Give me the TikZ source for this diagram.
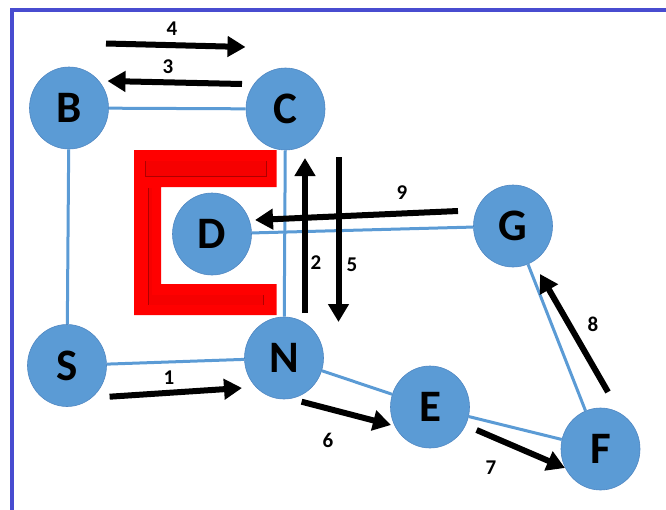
\documentclass[tikz,border=0pt]{standalone}
\usepackage{fontspec}
\setmainfont{Carlito}
\usetikzlibrary{shapes.geometric,arrows.meta}
\definecolor{nodeblue}{RGB}{91,155,213}
\definecolor{nodeedge}{RGB}{80,135,194}
\definecolor{framecol}{RGB}{72,76,208}
\definecolor{bevel}{RGB}{175,0,0}
\definecolor{shieldred}{RGB}{255,0,0}
\definecolor{shieldin}{RGB}{246,0,0}

\begin{document}
\begin{tikzpicture}[x=1pt,y=-1pt]
    \tikzstyle{router}=[ellipse,fill=nodeblue,draw=nodeedge,line width=0.6pt,minimum width=79pt,minimum height=82pt,inner sep=0,font=\fontsize{45}{45}\selectfont\bfseries]
    \tikzstyle{link}=[draw=nodeblue,line width=3pt]
    \tikzstyle{hop}=[draw=black,line width=6pt,-{Triangle[width=20pt,length=18pt]}]
    \tikzstyle{num}=[inner sep=0,font=\fontsize{21}{21}\selectfont\bfseries]
    {
        \useasboundingbox (0,0) rectangle (666,509);
        % frame
        \draw[framecol,line width=4.5pt] (12,530) -- (12,10) -- (690,10);

        % red shield
        \fill[shieldred] (134,150) -- (276.5,150) -- (276.5,187) -- (161,187) -- (161,284)
            -- (276.5,284) -- (276.5,315) -- (134,315) -- cycle;
        \fill[shieldin] (145,161) rectangle (266.5,176);
        \fill[shieldin] (148.5,188) rectangle (152,304);
        \fill[shieldin] (150,295) rectangle (263,305);
        \draw[bevel,line width=0.8pt] (145,161) -- (145,176) -- (266.5,176) -- (266.5,161);
        \draw[bevel,line width=1pt] (148.5,188) -- (148.5,305);
        \draw[bevel,line width=0.8pt] (263,295) -- (263,305);

        % routers
        \node[router] (B) at (69,108) {B};
        \node[router] (C) at (285.5,109) {C};
        \node[router] (D) at (212,234) {D};
        \node[router] (G) at (513,226) {G};
        \node[router] (S) at (67,365.5) {S};
        \node[router] (N) at (284,358) {N};
        \node[router] (E) at (430,407) {E};
        \node[router] (F) at (600.5,449) {F};

        \path[every edge/.style=link]
            (B) edge (C)
            (B) edge (S)
            (C) edge (N)
            (S) edge (N)
            (D) edge (G)
            (N) edge (E)
            (E) edge (F)
            (G) edge (F);

        % hops
        \coordinate (h1a) at (109.6,396.7);  \coordinate (h1b) at (242,388);
        \coordinate (h2a) at (305,313);      \coordinate (h2b) at (305,158);
        \coordinate (h3a) at (242,84);       \coordinate (h3b) at (107.5,81);
        \coordinate (h4a) at (106,43.5);     \coordinate (h4b) at (245.5,47);
        \coordinate (h5a) at (338.5,157);    \coordinate (h5b) at (338.5,322);
        \coordinate (h6a) at (301.6,401.7);  \coordinate (h6b) at (391,425);
        \coordinate (h7a) at (476.6,430);    \coordinate (h7b) at (565,468);
        \coordinate (h8a) at (608,392);      \coordinate (h8b) at (540,274);
        \coordinate (h9a) at (458,211);      \coordinate (h9b) at (255,220);

        \path[every edge/.style=hop]
            (h1a) edge (h1b)
            (h2a) edge (h2b)
            (h3a) edge (h3b)
            (h4a) edge (h4b)
            (h5a) edge (h5b)
            (h6a) edge (h6b)
            (h7a) edge (h7b)
            (h8a) edge (h8b)
            (h9a) edge (h9b);

        \node[num] (l1) at (169,378) {1};
        \node[num] (l2) at (316,263) {2};
        \node[num] (l3) at (168,66.7) {3};
        \node[num] (l4) at (172,29) {4};
        \node[num] (l5) at (352,265) {5};
        \node[num] (l6) at (328,440) {6};
        \node[num] (l7) at (491,468) {7};
        \node[num] (l8) at (593,324) {8};
        \node[num] (l9) at (402,193) {9};
    }
\end{tikzpicture}
\end{document}
